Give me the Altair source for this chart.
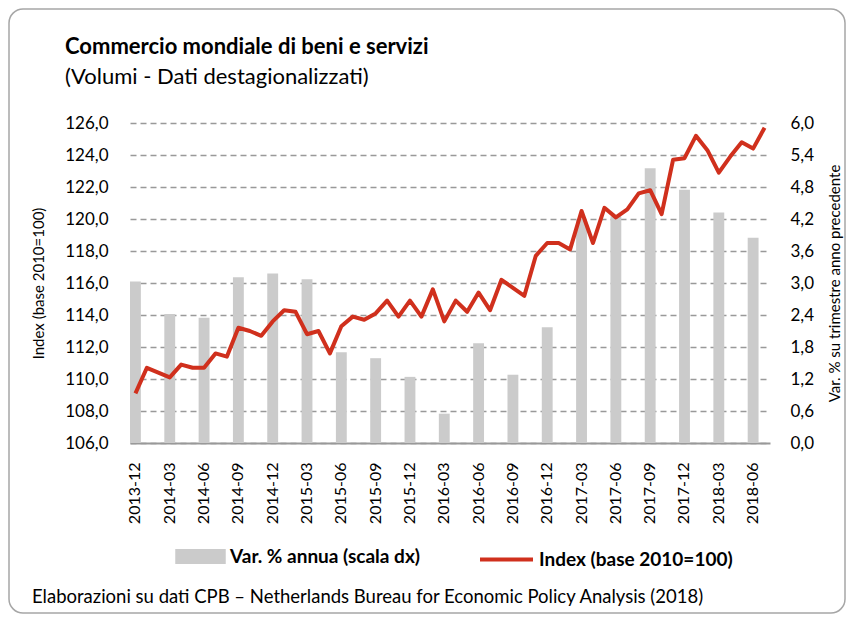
import altair as alt
import pandas as pd

# ---- data ----
month_labels = [
    "2013-12",
    "2014-01", "2014-02", "2014-03", "2014-04", "2014-05", "2014-06",
    "2014-07", "2014-08", "2014-09", "2014-10", "2014-11", "2014-12",
    "2015-01", "2015-02", "2015-03", "2015-04", "2015-05", "2015-06",
    "2015-07", "2015-08", "2015-09", "2015-10", "2015-11", "2015-12",
    "2016-01", "2016-02", "2016-03", "2016-04", "2016-05", "2016-06",
    "2016-07", "2016-08", "2016-09", "2016-10", "2016-11", "2016-12",
    "2017-01", "2017-02", "2017-03", "2017-04", "2017-05", "2017-06",
    "2017-07", "2017-08", "2017-09", "2017-10", "2017-11", "2017-12",
    "2018-01", "2018-02", "2018-03", "2018-04", "2018-05", "2018-06",
    "2018-07",
]
index_values = [
    109.1,
    110.7, 110.4, 110.1, 110.9, 110.7, 110.7, 111.6, 111.4, 113.2, 113.0, 112.7, 113.6,
    114.3, 114.2, 112.8, 113.0, 111.6, 113.3, 113.9, 113.7, 114.1, 114.9, 113.9, 114.9,
    113.9, 115.6, 113.6, 114.9, 114.2, 115.4, 114.3, 116.2, 115.7, 115.2, 117.7, 118.5,
    118.5, 118.1, 120.5, 118.5, 120.7, 120.1, 120.6, 121.6, 121.8, 120.3, 123.7, 123.8,
    125.2, 124.3, 122.9, 123.9, 124.8, 124.4, 125.7,
]
quarter_labels = [
    "2013-12", "2014-03", "2014-06", "2014-09", "2014-12", "2015-03", "2015-06",
    "2015-09", "2015-12", "2016-03", "2016-06", "2016-09", "2016-12", "2017-03",
    "2017-06", "2017-09", "2017-12", "2018-03", "2018-06",
]
yoy_values = [
    3.03, 2.42, 2.35, 3.11, 3.18, 3.07, 1.70, 1.59, 1.24, 0.55,
    1.87, 1.28, 2.17, 4.20, 4.25, 5.15, 4.75, 4.32, 3.85,
]
left_ticks = [106, 108, 110, 112, 114, 116, 118, 120, 122, 124, 126]
right_ticks = [0.0, 0.6, 1.2, 1.8, 2.4, 3.0, 3.6, 4.2, 4.8, 5.4, 6.0]

bar_name = "Var. % annua  (scala dx)"
line_name = "Index (base 2010=100)"
title_text = "Commercio mondiale di beni e servizi"
subtitle_text = "(Volumi - Dati destagionalizzati)"
footer_text = "Elaborazioni su dati CPB \u2013 Netherlands Bureau for Economic Policy Analysis (2018)"

FONT = "Lato"

bars_df = pd.DataFrame({"month": quarter_labels, "yoy": yoy_values, "series": bar_name})
line_df = pd.DataFrame({"month": month_labels, "index": index_values, "series": line_name})
one_row = pd.DataFrame({"k": [0]})

x_scale = alt.Scale(domain=month_labels, paddingInner=0.05, paddingOuter=0)

comma_expr = "replace(format(datum.value, '.1f'), '.', ',')"

frame = alt.Chart(one_row).mark_rect(
    filled=False, stroke="#a6a6a6", strokeWidth=1.5, cornerRadius=14
).encode(
    x=alt.value(-121), x2=alt.value(715), y=alt.value(-114), y2=alt.value(490)
)

bars = alt.Chart(bars_df).mark_bar().encode(
    x=alt.X(
        "month:N", scale=x_scale, sort=month_labels,
        axis=alt.Axis(
            values=quarter_labels, title=None, labelAngle=-90, labelFont=FONT,
            labelFontSize=16, labelColor="#000", labelPadding=19, ticks=False,
            domainColor="#999", domainWidth=2, grid=False,
        ),
    ),
    y=alt.Y(
        "yoy:Q",
        scale=alt.Scale(domain=[0, 6], nice=False, zero=True),
        axis=alt.Axis(
            orient="right", values=right_ticks, labelExpr=comma_expr,
            title="Var. % su trimestre anno precedente", titleAngle=270,
            titleFont=FONT, titleFontSize=15, titleFontWeight="normal", titleColor="#000",
            titlePadding=29, labelFont=FONT, labelFontSize=17, labelColor="#000",
            labelPadding=20, ticks=False, domain=False, grid=False,
        ),
    ),
    color=alt.Color(
        "series:N", scale=alt.Scale(range=["#cbcbcb"]),
        legend=alt.Legend(
            title=None, orient="none", legendX=45, legendY=408,
            symbolType="M-1,-0.3L1,-0.3L1,0.3L-1,0.3Z", symbolSize=2550,
            symbolStrokeWidth=0, labelFont=FONT, labelFontSize=19, labelLimit=0,
            labelFontWeight="bold", labelColor="#000", labelOffset=4, padding=0,
        ),
    ),
)

line = alt.Chart(line_df).mark_line(strokeWidth=4, strokeJoin="round").encode(
    x=alt.X("month:N", scale=x_scale, sort=month_labels),
    y=alt.Y(
        "index:Q",
        scale=alt.Scale(domain=[106, 126], nice=False, zero=False),
        axis=alt.Axis(
            orient="left", values=left_ticks, labelExpr=comma_expr,
            title="Index (base 2010=100)", titleFont=FONT, titleFontSize=15,
            titleFontWeight="normal", titleColor="#000", titlePadding=18,
            labelFont=FONT, labelFontSize=17, labelColor="#000", labelPadding=22,
            ticks=False, domain=False, grid=True, gridColor="#999",
            gridDash=[6, 4], gridWidth=1.5,
        ),
    ),
    stroke=alt.Stroke(
        "series:N", scale=alt.Scale(range=["#d0301d"]),
        legend=alt.Legend(
            title=None, orient="none", legendX=348, legendY=408,
            symbolType="stroke", symbolSize=2809, symbolStrokeWidth=4,
            labelFont=FONT, labelFontSize=19, labelFontWeight="bold", labelLimit=0,
            labelColor="#000", labelOffset=4, padding=0,
        ),
    ),
)

title_mark = alt.Chart(one_row).mark_text(
    font=FONT, fontSize=22, fontWeight="bold", color="#000", align="left", baseline="middle"
).encode(x=alt.value(-65), y=alt.value(-76), text=alt.value(title_text))

subtitle_mark = alt.Chart(one_row).mark_text(
    font=FONT, fontSize=22, color="#000", align="left", baseline="middle"
).encode(x=alt.value(-65), y=alt.value(-46), text=alt.value(subtitle_text))

footer = alt.Chart(one_row).mark_text(
    font=FONT, fontSize=18.5, color="#000", align="left", baseline="middle"
).encode(x=alt.value(-98), y=alt.value(474), text=alt.value(footer_text))

chart = alt.layer(frame, bars, line, title_mark, subtitle_mark, footer).resolve_scale(
    y="independent", color="independent", stroke="independent"
).properties(
    width=640,
    height=320,
    autosize=alt.AutoSizeParams(type="none"),
    padding={"left": 122, "top": 115, "right": 77, "bottom": 172},
).configure_view(stroke=None)

chart.save("out.html", embed_options={"renderer": "svg", "actions": False})
